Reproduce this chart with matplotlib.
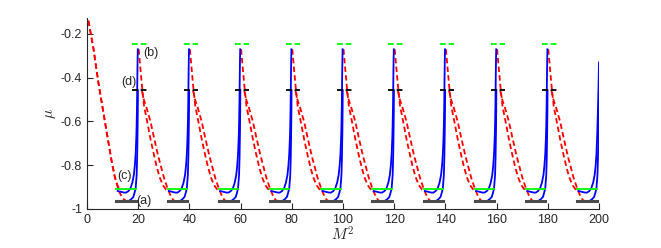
import matplotlib
matplotlib.use('Agg')
import matplotlib.pyplot as plt

plt.rcParams['font.family'] = ['Liberation Sans', 'DejaVu Sans']
plt.rcParams['mathtext.fontset'] = 'cm'

# ---- data ----
# start of each 20-unit period in M^2
period_starts = [0, 20, 40, 60, 80, 100, 120, 140, 160, 180]
# positions of the peaks (dashed markers) and of the minima bars (solid markers)
peak_positions = [20, 40, 60, 80, 100, 120, 140, 160, 180]
bar_ends = [20, 40, 60, 80, 100, 120, 140, 160, 180, 200]

# characteristic levels of mu
peak_g = -0.245   # (b)
peak_k = -0.457   # (d)
min_g = -0.909    # (c)
min_k = -0.965    # (a)

# red dashed branch inside one period (x relative to the period start)
red_g_x = [0.2, 0.8, 1.5, 2.3, 3.5, 4.8, 6.1, 7.3, 8.4, 9.6, 10.8, 12.0]
red_g_y = [-0.27, -0.35, -0.44, -0.53, -0.60, -0.68, -0.75, -0.81, -0.855, -0.89, -0.91, -0.918]
red_k_x = [1.4, 2.2, 3.2, 4.8, 6.2, 7.7, 9.0, 10.1, 11.3, 12.5, 13.6, 14.5]
red_k_y = [-0.457, -0.50, -0.535, -0.60, -0.675, -0.752, -0.81, -0.858, -0.90, -0.935, -0.958, -0.965]

# blue solid branch inside one period (x relative to the period start)
blue_g_x = [12.0, 13.5, 14.5, 15.3, 16.2, 17.0, 17.7, 18.3, 18.7, 19.0, 19.25, 19.4, 19.55, 19.65, 19.75, 19.85]
blue_g_y = [-0.918, -0.922, -0.925, -0.925, -0.918, -0.905, -0.88, -0.845, -0.80, -0.75, -0.68, -0.616, -0.52, -0.42, -0.33, -0.27]
blue_k_x = [14.5, 15.5, 16.5, 17.3, 18.1, 18.6, 19.0, 19.4, 19.6, 19.75, 19.85, 19.9]
blue_k_y = [-0.965, -0.966, -0.962, -0.955, -0.945, -0.925, -0.905, -0.845, -0.76, -0.65, -0.55, -0.457]

# last period: blue branch cut at M^2 = 200
blue_g_end_x = [12.0, 13.5, 14.5, 15.3, 16.2, 17.0, 17.7, 18.3, 18.7, 19.0, 19.3, 19.55, 19.8, 20.0]
blue_g_end_y = [-0.918, -0.922, -0.925, -0.925, -0.918, -0.905, -0.88, -0.845, -0.80, -0.75, -0.66, -0.56, -0.45, -0.33]
blue_k_end_x = [14.5, 15.5, 16.5, 17.3, 18.1, 18.6, 19.0, 19.4, 19.7, 20.0]
blue_k_end_y = [-0.965, -0.966, -0.962, -0.955, -0.945, -0.925, -0.905, -0.845, -0.72, -0.49]

# first period: red branches coming from above
red0_g_x = [0.0, 0.5, 2.5, 4.4, 5.7, 7.0, 8.3, 9.6, 10.8, 12.0, 13.0]
red0_g_y = [-0.10, -0.136, -0.265, -0.418, -0.51, -0.60, -0.69, -0.78, -0.85, -0.895, -0.915]
red0_k_x = [0.0, 0.5, 2.5, 4.4, 5.7, 7.0, 8.3, 9.6, 11.0, 12.5, 14.0, 15.5]
red0_k_y = [-0.10, -0.136, -0.265, -0.418, -0.51, -0.60, -0.69, -0.78, -0.86, -0.92, -0.952, -0.965]

x_ticks = [0, 20, 40, 60, 80, 100, 120, 140, 160, 180, 200]
y_ticks = [-1, -0.8, -0.6, -0.4, -0.2]
y_ticklabels = ['-1', '-0.8', '-0.6', '-0.4', '-0.2']

# ---- figure ----
fig = plt.figure(figsize=(6.61, 2.48), dpi=100)
ax = fig.add_axes([0.1316, 0.1573, 0.7746, 0.770])

RED = (1, 0, 0)
BLUE = (0, 0, 1)
GREEN = (0, 1, 0)
LW = 1.3
red_dash = (3.0, 1.8)

# red branches
ax.plot(red0_g_x, red0_g_y, color=RED, lw=LW, dashes=red_dash)
ax.plot(red0_k_x, red0_k_y, color=RED, lw=LW, dashes=red_dash)
for p in period_starts[1:]:
    ax.plot([p + v for v in red_g_x], red_g_y, color=RED, lw=LW, dashes=red_dash)
    ax.plot([p + v for v in red_k_x], red_k_y, color=RED, lw=LW, dashes=red_dash)

# blue branches
for p in period_starts[:-1]:
    ax.plot([p + v for v in blue_g_x], blue_g_y, color=BLUE, lw=LW)
    ax.plot([p + v for v in blue_k_x], blue_k_y, color=BLUE, lw=LW)
p = period_starts[-1]
ax.plot([p + v for v in blue_g_end_x], blue_g_end_y, color=BLUE, lw=LW)
ax.plot([p + v for v in blue_k_end_x], blue_k_end_y, color=BLUE, lw=LW)

# markers
for c in peak_positions:
    ax.plot([c - 2.3, c + 3.4], [peak_g, peak_g], color=GREEN, lw=LW, dashes=(3.2, 1.6))
    ax.plot([c - 2.3, c + 3.4], [peak_k, peak_k], color='k', lw=LW, dashes=(3.2, 1.6))
for c in bar_ends:
    ax.plot([c - 8.5, c - 0.9], [min_g, min_g], color=GREEN, lw=LW)
    ax.plot([c - 8.5, c - 0.9], [min_k, min_k], color='0.3', lw=2.2)

# labels
fs = 9
ax.text(19.3, -0.963, '(a)', fontsize=fs, va='center', ha='left', color='0.15')
ax.text(22.0, -0.285, '(b)', fontsize=fs, va='center', ha='left', color='0.15')
ax.text(12.0, -0.85, '(c)', fontsize=fs, va='center', ha='left', color='0.15')
ax.text(13.3, -0.42, '(d)', fontsize=fs, va='center', ha='left', color='0.15')

ax.set_xlim(0, 200)
ax.set_ylim(-1, -0.127)
ax.set_xticks(x_ticks)
ax.set_yticks(y_ticks)
ax.set_yticklabels(y_ticklabels)
for s in ['top', 'right']:
    ax.spines[s].set_visible(False)
for s in ['left', 'bottom']:
    ax.spines[s].set_color('0.15')
    ax.spines[s].set_linewidth(0.8)
ax.tick_params(direction='in', length=4, width=0.8, colors='0.15', labelsize=fs, pad=3.5)

ax.set_xlabel(r'$M^2$', fontsize=11, color='0.15', labelpad=0)
ax.set_ylabel(r'$\mu$', fontsize=11, color='0.15', labelpad=2)

fig.savefig('out.png', dpi=100)
